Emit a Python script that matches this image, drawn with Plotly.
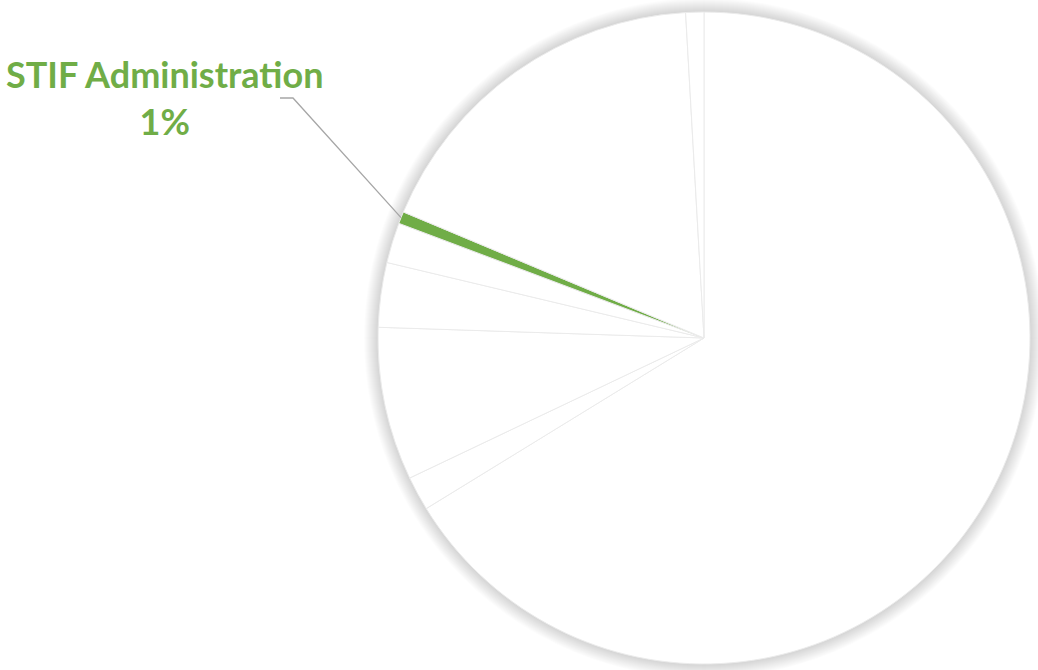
import math
import plotly.graph_objects as go

# Data (percent shares, clockwise from 12 o'clock)
labels = ["Operations", "Segment B", "Segment C", "Segment D", "Segment E",
          "STIF Administration", "Segment F", "Segment G"]
values = [66.3, 1.7, 7.6, 3.2, 2.0, 0.6, 17.8, 0.9]
highlight = "STIF Administration"

W, H = 1038, 670
CX, CY, R = 704, 338, 326  # pie centre / radius in pixels
GREEN = "#70AD47"

colors = [GREEN if l == highlight else "#FFFFFF" for l in labels]

fig = go.Figure()
fig.add_trace(go.Pie(
    labels=labels, values=values, sort=False, direction="clockwise", rotation=0,
    marker=dict(colors=colors, line=dict(color="#ebebeb", width=1)),
    textinfo="none", hoverinfo="label+percent", showlegend=False,
    domain=dict(x=[(CX - R) / W, (CX + R) / W],
                y=[(H - CY - R) / H, (H - CY + R) / H]),
))

def px2paper(x, y):
    return x / W, 1 - y / H

shapes = []
# soft shadow around pie
for k in range(14, 0, -1):
    x0, y1 = px2paper(CX - R - k, CY - R - k)
    x1, y0 = px2paper(CX + R + k, CY + R + k)
    shapes.append(dict(type="circle", xref="paper", yref="paper", layer="below",
                       x0=x0, x1=x1, y0=y0, y1=y1,
                       fillcolor="rgba(0,0,0,0.0105)", line=dict(width=0)))

# leader line to the highlighted slice mid-angle
total = sum(values)
idx = labels.index(highlight)
start = sum(values[:idx]) / total * 360
mid = start + values[idx] / total * 360 / 2
ex = CX + R * math.sin(math.radians(mid))
ey = CY - R * math.cos(math.radians(mid))
lx0, ly0 = 280, 98
lx1 = 293
p0 = px2paper(lx0, ly0)
p1 = px2paper(lx1, ly0)
p2 = px2paper(ex, ey)
shapes.append(dict(type="path", xref="paper", yref="paper",
                   path=f"M {p0[0]} {p0[1]} L {p1[0]} {p1[1]} L {p2[0]} {p2[1]}",
                   line=dict(color="#a6a6a6", width=1.3)))

pct = round(values[idx] / total * 100)
if pct == 0:
    pct = 1
ax, ay = px2paper(164, 97)
fig.update_layout(
    width=W, height=H, margin=dict(l=0, r=0, t=0, b=0),
    paper_bgcolor="white", plot_bgcolor="white",
    shapes=shapes,
    annotations=[dict(x=ax, y=ay, xref="paper", yref="paper", showarrow=False,
                      xanchor="center", yanchor="middle", align="center",
                      text=f"<b>{highlight}<br>{pct}%</b>",
                      font=dict(family="Lato", size=36, color=GREEN))],
)
fig.write_html("out.html", config={"displayModeBar": False},
               post_script="document.body.style.margin='0';")
